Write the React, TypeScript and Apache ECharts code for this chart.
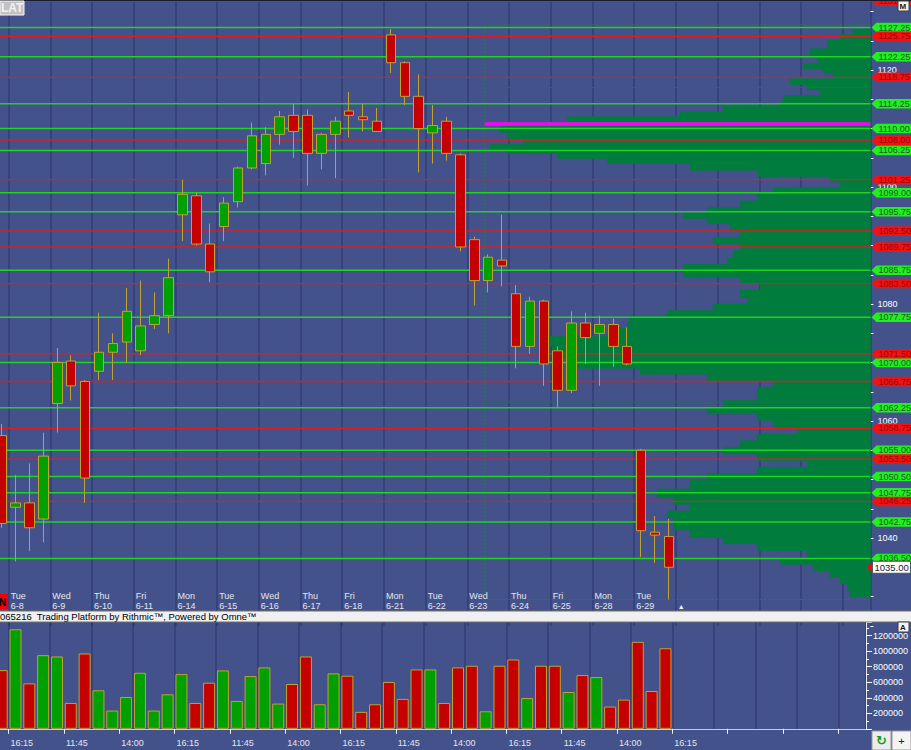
import React, { useEffect, useRef } from 'react';
import * as echarts from 'echarts';

// ---------- data ----------
const DAYS = ['Tue\n6-8', 'Wed\n6-9', 'Thu\n6-10', 'Fri\n6-11', 'Mon\n6-14', 'Tue\n6-15', 'Wed\n6-16', 'Thu\n6-17',
  'Fri\n6-18', 'Mon\n6-21', 'Tue\n6-22', 'Wed\n6-23', 'Thu\n6-24', 'Fri\n6-25', 'Mon\n6-28', 'Tue\n6-29'];
const BAR_TIMES = ['16:15', '11:45', '14:00'];

const OPEN = [1057.5, 1045.25, 1046.0, 1043.25, 1063.0, 1070.25, 1066.75, 1068.5, 1071.75, 1073.5, 1072.0, 1076.5, 1078.0,
  1095.25, 1098.5, 1090.25, 1093.25, 1097.5, 1103.25, 1104.0, 1109.0, 1112.25, 1112.25, 1105.75, 1109.0, 1113.0, 1112.0,
  1111.25, 1126.0, 1121.25, 1115.5, 1109.25, 1111.25, 1105.5, 1091.0, 1084.0, 1087.5, 1081.75, 1072.75, 1080.5, 1072.0,
  1065.25, 1076.75, 1075.0, 1076.5, 1072.75, 1055.0, 1041.0, 1040.25];
const CLOSE = [1042.5, 1046.0, 1041.75, 1054.0, 1070.0, 1066.0, 1050.25, 1071.75, 1073.25, 1078.75, 1076.25, 1078.0, 1084.5,
  1098.75, 1090.25, 1085.5, 1097.25, 1103.25, 1108.75, 1109.0, 1112.0, 1109.5, 1105.75, 1109.0, 1111.25, 1112.25, 1111.5,
  1109.5, 1121.25, 1115.5, 1110.0, 1110.5, 1105.75, 1089.75, 1084.0, 1088.0, 1086.5, 1072.75, 1080.5, 1069.75, 1065.25,
  1076.75, 1074.25, 1076.5, 1072.75, 1069.75, 1041.25, 1040.5, 1035.0];
const LOW = [1041.75, 1036.0, 1037.75, 1039.25, 1058.0, 1063.5, 1046.0, 1067.0, 1067.0, 1070.0, 1071.25, 1075.75, 1075.0,
  1090.75, 1090.0, 1083.75, 1090.75, 1096.5, 1103.0, 1102.0, 1107.25, 1105.0, 1100.25, 1103.0, 1101.5, 1108.5, 1109.5,
  1109.5, 1119.5, 1114.0, 1102.5, 1104.0, 1104.5, 1089.0, 1079.75, 1082.0, 1083.0, 1069.0, 1071.5, 1066.0, 1062.25,
  1064.75, 1069.75, 1066.0, 1069.25, 1069.5, 1036.75, 1035.75, 1029.5];
const HIGH = [1059.5, 1050.75, 1052.75, 1058.0, 1072.5, 1071.25, 1067.0, 1078.5, 1075.0, 1082.75, 1084.0, 1082.0, 1087.75,
  1101.25, 1099.0, 1093.75, 1098.25, 1103.5, 1111.0, 1110.25, 1113.0, 1114.25, 1113.25, 1109.25, 1112.0, 1116.25, 1114.25,
  1113.5, 1127.0, 1121.5, 1119.25, 1114.0, 1112.0, 1105.75, 1091.5, 1088.5, 1095.25, 1083.25, 1081.25, 1080.75, 1072.75,
  1078.75, 1078.5, 1078.0, 1077.5, 1076.0, 1055.25, 1043.75, 1043.25];
const VOLUME = [756000, 1282000, 585000, 949000, 932000, 333000, 970000, 496000, 235000, 410000, 722000, 235000, 444000,
  705000, 333000, 594000, 752000, 359000, 679000, 791000, 325000, 577000, 932000, 316000, 714000, 684000, 218000, 316000,
  603000, 385000, 765000, 765000, 333000, 791000, 812000, 226000, 812000, 893000, 397000, 812000, 812000, 474000, 692000,
  667000, 286000, 376000, 1120000, 487000, 1038000];

const GREEN_LEVELS = [1127.25, 1122.25, 1114.25, 1110.0, 1106.25, 1099.0, 1095.75, 1085.75, 1077.75, 1070.0, 1062.25,
  1055.0, 1050.5, 1047.75, 1042.75, 1036.5];
const RED_LEVELS = [1131.75, 1125.75, 1118.75, 1108.0, 1101.25, 1092.5, 1089.75, 1083.5, 1071.5, 1066.75, 1058.75,
  1053.5, 1046.25];

const PROFILE_PRICE = [1126.5, 1125.75, 1124.5, 1122.75, 1121.5, 1120.75, 1119.75, 1119.0, 1118.0, 1117.0, 1116.25, 1115.0,
  1114.25, 1113.25, 1112.5, 1111.5, 1110.75, 1110.0, 1108.75, 1107.75, 1106.75, 1106.25, 1105.25, 1104.5, 1103.5, 1102.25,
  1101.25, 1100.5, 1099.25, 1098.25, 1097.0, 1096.0, 1095.0, 1094.25, 1093.25, 1092.0, 1090.75, 1089.75, 1088.5, 1087.25,
  1086.25, 1085.25, 1084.0, 1083.0, 1081.75, 1080.5, 1079.5, 1078.25, 1077.5, 1076.5, 1075.25, 1073.75, 1072.0, 1069.5,
  1068.5, 1067.5, 1066.25, 1065.25, 1064.0, 1063.0, 1061.75, 1060.75, 1059.5, 1058.25, 1057.25, 1056.0, 1055.0, 1053.75,
  1052.75, 1051.5, 1050.5, 1049.25, 1047.5, 1046.25, 1045.25, 1044.0, 1043.0, 1042.0, 1040.75, 1039.5, 1038.5, 1037.25,
  1036.0, 1035.0, 1033.75, 1032.75, 1031.75, 1030.5];
const PROFILE_VOL = [17, 30, 43, 60, 53, 67, 47, 37, 80, 63, 50, 87, 90, 147, 190, 303, 363, 370, 363, 347, 380, 363, 313,
  263, 180, 113, 40, 30, 97, 113, 130, 163, 187, 163, 140, 130, 157, 130, 137, 143, 187, 187, 130, 110, 130, 123, 157, 203,
  240, 243, 260, 320, 318, 300, 230, 163, 97, 113, 113, 147, 163, 113, 97, 73, 113, 130, 147, 113, 63, 113, 163, 180, 213,
  197, 180, 203, 197, 197, 180, 147, 113, 63, 90, 57, 40, 30, 23, 20];
const PROFILE_START_BAR = 35;
const PROFILE_HIGH = 1127.75;
const PROFILE_LOW = 1029.5;
const POC = 1110.75;
const VAH = 1117.0;
const VAL = 1063.25;

// ---------- style / layout ----------
const SLOTS = 63;
const FONT = 'Liberation Sans, Arial, sans-serif';
const BG = '#43528A';
const OX = 10; // chart canvas extends OX px left of the page
const OY = 20; // and OY px above it, so grids can start off-page
const GRID_LEFT = OX - 5.25;
const GRID_RIGHT = 40.55;
const GRID_LINE = 'rgba(30,38,90,0.45)';
const UP = '#00A000';
const DOWN = '#C40000';
const EDGE = '#BFA232';
const PROFILE_COLOR = '#007D3C';

function buildOption() {
  const slotNames = Array.from({ length: SLOTS }, (_, i) => 's' + i);
  const boundaryNames = Array.from({ length: SLOTS + 1 }, (_, i) => 'b' + i);
  const candleData = OPEN.map((o, i) => [o, CLOSE[i], LOW[i], HIGH[i]]);
  const volData = VOLUME.map((v, i) => ({
    value: v,
    itemStyle: { color: CLOSE[i] >= OPEN[i] ? UP : DOWN, borderColor: EDGE, borderWidth: 1 },
  }));
  const profileData = PROFILE_PRICE.map((p, i) => [PROFILE_VOL[i], p]);
  const levelData = [
    ...GREEN_LEVELS.map((p) => [0, p, 0]),
    ...RED_LEVELS.map((p) => [0, p, 1]),
    [0, CLOSE[CLOSE.length - 1], 2],
  ];

  const profileItem = (params: any, api: any) => {
    const i = params.dataIndex;
    const p = PROFILE_PRICE[i];
    const up = i > 0 ? (PROFILE_PRICE[i - 1] + p) / 2 : p + 0.5;
    const dn = i < PROFILE_PRICE.length - 1 ? (PROFILE_PRICE[i + 1] + p) / 2 : p - 0.5;
    const a = api.coord([api.value(0), up]);
    const b = api.coord([0, dn]);
    return {
      type: 'rect',
      shape: { x: a[0], y: a[1], width: b[0] - a[0], height: b[1] - a[1] },
      style: { fill: PROFILE_COLOR, stroke: PROFILE_COLOR, lineWidth: 0.6 },
    };
  };

  const frameItem = (params: any, api: any) => {
    const cs = params.coordSys;
    const bw = api.size([1, 0])[0];
    const x0 = api.coord([PROFILE_START_BAR, POC])[0] - bw * 0.25;
    const xr = cs.x + cs.width;
    const yT = api.coord([0, PROFILE_HIGH])[1];
    const yB = api.coord([0, PROFILE_LOW])[1];
    const yP = api.coord([0, POC])[1];
    const yH = api.coord([0, VAH])[1];
    const yL = api.coord([0, VAL])[1];
    return {
      type: 'group',
      children: [
        { type: 'polyline', shape: { points: [[xr, yT], [x0, yT], [x0, yB], [xr, yB]] },
          style: { stroke: '#2C7A50', lineWidth: 1, lineDash: [2, 2], fill: 'none' } },
        { type: 'line', shape: { x1: x0, y1: yH, x2: xr, y2: yH }, style: { stroke: '#24704E', lineWidth: 1 } },
        { type: 'line', shape: { x1: x0, y1: yL, x2: xr, y2: yL }, style: { stroke: '#24704E', lineWidth: 1 } },
        { type: 'line', shape: { x1: x0, y1: yP, x2: xr, y2: yP }, style: { stroke: '#FF00FF', lineWidth: 3.5 } },
      ],
    };
  };

  const levelItem = (params: any, api: any) => {
    const price = api.value(1);
    const kind = api.value(2);
    const cs = params.coordSys;
    const y = api.coord([0, price])[1];
    const xl = cs.x;
    const xr = cs.x + cs.width;
    const children: any[] = [];
    if (kind === 2) {
      children.push({ type: 'polygon', shape: { points: [[xr - 4, y], [xr + 2, y - 5], [xr + 2, y + 5]] }, style: { fill: '#E01010' } });
      children.push({ type: 'rect', shape: { x: xr + 2, y: y - 6, width: 38, height: 12 }, style: { fill: '#FFFFFF', stroke: '#505050', lineWidth: 1 } });
      children.push({ type: 'text', x: xr + 4, y, style: { text: price.toFixed(2), fill: '#101838', fontSize: 9.5, fontFamily: FONT, verticalAlign: 'middle', align: 'left' } });
    } else {
      children.push({ type: 'line', shape: { x1: xl, y1: y, x2: xr, y2: y },
        style: { stroke: kind === 0 ? '#22D422' : '#D82020', lineWidth: kind === 0 ? 1.5 : 1.3 } });
      const bg = kind === 0 ? '#22EE22' : '#EE1414';
      const h = 4.75;
      children.push({ type: 'polygon', shape: { points: [[xr + 1, y], [xr + 6, y - h], [xr + 60, y - h], [xr + 60, y + h], [xr + 6, y + h]] }, style: { fill: bg } });
      children.push({ type: 'text', x: xr + 8, y, style: { text: price.toFixed(2), fill: kind === 0 ? '#1E5A1E' : '#A40000', fontSize: 9, fontFamily: FONT, verticalAlign: 'middle', align: 'left' } });
    }
    return { type: 'group', children };
  };

  const hiddenAxisParts = { axisLine: { show: false }, axisTick: { show: false }, axisLabel: { show: false } };
  const g = (x: number, y: number) => ({ x: x + OX, y: y + OY });

  return {
    animation: false,
    backgroundColor: BG,
    grid: [
      { left: GRID_LEFT, right: GRID_RIGHT, top: OY - 17.75, height: 643.5 },
      { left: GRID_LEFT, right: GRID_RIGHT, top: OY + 622, height: 106.8 },
      { left: GRID_LEFT, right: GRID_RIGHT, top: OY + 588, height: 1 },
    ],
    xAxis: [
      { type: 'category', gridIndex: 0, data: slotNames, boundaryGap: true, position: 'bottom', ...hiddenAxisParts,
        splitLine: { show: true, interval: (i: number) => i % 3 === 1, lineStyle: { color: GRID_LINE, width: 1.5 } } },
      { type: 'category', gridIndex: 1, data: slotNames, boundaryGap: true, position: 'top', ...hiddenAxisParts,
        splitLine: { show: true, interval: (i: number) => i % 3 === 1, lineStyle: { color: GRID_LINE, width: 1.5 } } },
      { type: 'value', gridIndex: 0, min: 0, max: 875.7, inverse: true, position: 'top', show: false },
      { type: 'category', gridIndex: 1, data: boundaryNames, boundaryGap: false, position: 'bottom',
        axisLine: { show: true, lineStyle: { color: '#C8CCDA', width: 1 } },
        axisTick: { show: true, interval: (i: number) => i % 4 === 1, length: 5, lineStyle: { color: '#F0F0F0' } },
        axisLabel: {
          interval: 0, align: 'left', margin: 10, color: '#E4E6EE', fontSize: 9, fontFamily: FONT, padding: [0, 0, 0, 2],
          formatter: (_v: string, i: number) => (i % 4 === 1 && i <= 49 ? BAR_TIMES[(i - 1) % 3] : ''),
        },
        splitLine: { show: false } },
      { type: 'category', gridIndex: 2, data: boundaryNames, boundaryGap: false, position: 'bottom',
        axisLine: { show: false }, axisTick: { show: false },
        axisLabel: {
          interval: 0, align: 'left', margin: 2, color: '#E4E6EE', fontSize: 9, lineHeight: 10, fontFamily: FONT,
          padding: [0, 0, 0, 2],
          formatter: (_v: string, i: number) => {
            if (i % 3 === 1 && DAYS[(i - 1) / 3]) return DAYS[(i - 1) / 3];
            if (i === 49) return '{e| }\n{t|▲}';
            return '';
          },
          rich: { e: { lineHeight: 10, fontSize: 9 }, t: { fontSize: 7, lineHeight: 10, color: '#F4F4F4' } },
        },
        splitLine: { show: false } },
    ],
    yAxis: [
      { type: 'value', gridIndex: 0, min: 1025, max: 1135, interval: 5, position: 'right',
        axisLine: { show: false },
        axisTick: { show: true, length: 3, lineStyle: { color: '#FFFFFF' } },
        axisLabel: { color: '#FFFFFF', fontSize: 9, fontFamily: FONT, margin: 7, align: 'left', padding: [0, 0, 5, 0],
          formatter: (v: number) => (v % 20 === 0 && v >= 1030 && v <= 1130 ? String(v) : '') },
        splitLine: { show: false } },
      { type: 'value', gridIndex: 1, min: 0, max: 1376000, interval: 200000, position: 'right',
        axisLine: { show: true, lineStyle: { color: '#E8E8F0' } },
        axisTick: { show: true, length: 6, lineStyle: { color: '#FFFFFF' } },
        minorTick: { show: true, splitNumber: 2, length: 3, lineStyle: { color: '#FFFFFF' } },
        axisLabel: { color: '#FFFFFF', fontSize: 9, fontFamily: FONT, margin: 7, align: 'left', padding: [0, 0, 5, 0],
          formatter: (v: number) => (v > 0 && v % 200000 === 0 ? String(v) : '') },
        splitLine: { show: false } },
      { type: 'value', gridIndex: 2, show: false },
    ],
    series: [
      { type: 'custom', name: 'profile', xAxisIndex: 2, yAxisIndex: 0, data: profileData, encode: { x: 0, y: 1 },
        renderItem: profileItem, z: 1, silent: true },
      { type: 'custom', name: 'profileFrame', xAxisIndex: 0, yAxisIndex: 0, data: [[PROFILE_START_BAR, POC]],
        encode: { x: 0, y: 1 }, renderItem: frameItem, z: 2, silent: true, clip: false },
      { type: 'custom', name: 'levels', xAxisIndex: 0, yAxisIndex: 0, data: levelData, encode: { x: 0, y: 1 },
        renderItem: levelItem, z: 3, silent: true, clip: false },
      { type: 'candlestick', name: 'ES', xAxisIndex: 0, yAxisIndex: 0, data: candleData, barWidth: 10, z: 5,
        itemStyle: { color: UP, color0: DOWN, borderColor: EDGE, borderColor0: EDGE, borderWidth: 1 } },
      { type: 'bar', name: 'Volume', xAxisIndex: 1, yAxisIndex: 1, data: volData, barWidth: 12, z: 2 },
    ],
    graphic: [
      { type: 'rect', z: 100, shape: { ...g(0, 0), width: 911, height: 1 }, style: { fill: '#181C2C' } },
      { type: 'rect', z: 100, shape: { ...g(0, 1), width: 24, height: 14 }, style: { fill: '#C2C2C2', stroke: '#F6F6F6', lineWidth: 1 } },
      { type: 'text', z: 101, ...g(1, 2), style: { text: 'LAT', fill: '#F2F2F2', fontSize: 12, fontWeight: 'bold', fontFamily: FONT } },
      { type: 'rect', z: 100, shape: { ...g(898, 1), width: 11, height: 10 }, style: { fill: '#F2F2F2', stroke: '#404040', lineWidth: 1 } },
      { type: 'text', z: 101, ...g(899.5, 2), style: { text: 'M', fill: '#1A1A1A', fontSize: 8, fontWeight: 'bold', fontFamily: FONT } },
      { type: 'rect', z: 100, shape: { ...g(0, 594), width: 8, height: 15 }, style: { fill: '#F00000' } },
      { type: 'text', z: 101, ...g(-1, 597), style: { text: 'N', fill: '#000000', fontSize: 10, fontWeight: 'bold', fontFamily: FONT } },
      { type: 'rect', z: 100, shape: { ...g(-1, 611), width: 913, height: 11 }, style: { fill: '#F0F0F0', stroke: '#707070', lineWidth: 1 } },
      { type: 'text', z: 101, ...g(0, 616.5), style: { text: '065216  Trading Platform by Rithmic™, Powered by Omne™', fill: '#000000', fontSize: 9.5, fontFamily: FONT, verticalAlign: 'middle' } },
      { type: 'rect', z: 100, shape: { ...g(898, 622), width: 11, height: 10 }, style: { fill: '#F2F2F2', stroke: '#404040', lineWidth: 1 } },
      { type: 'text', z: 101, ...g(900, 623), style: { text: 'A', fill: '#1A1A1A', fontSize: 8, fontWeight: 'bold', fontFamily: FONT } },
      { type: 'rect', z: 100, shape: { ...g(872, 731), width: 19, height: 19 }, style: { fill: '#ECECEC', stroke: '#9A9A9A', lineWidth: 1 } },
      { type: 'text', z: 101, ...g(881.5, 740.5), style: { text: '↻', fill: '#149A14', fontSize: 13, fontWeight: 'bold', fontFamily: 'DejaVu Sans', align: 'center', verticalAlign: 'middle' } },
      { type: 'rect', z: 100, shape: { ...g(892, 731), width: 19, height: 19 }, style: { fill: '#F4F4F4', stroke: '#9A9A9A', lineWidth: 1 } },
      { type: 'text', z: 101, ...g(901.5, 740.5), style: { text: '+', fill: '#202020', fontSize: 11, fontFamily: FONT, align: 'center', verticalAlign: 'middle' } },
    ],
  };
}

export default function App() {
  const ref = useRef<HTMLDivElement>(null);
  useEffect(() => {
    document.body.style.margin = '0';
    const chart = echarts.init(ref.current as HTMLDivElement, null, { renderer: 'svg' });
    chart.setOption(buildOption() as any);
    return () => chart.dispose();
  }, []);
  return (
    <div style={{ position: 'fixed', left: 0, top: 0, width: 911, height: 750, overflow: 'hidden', background: BG }}>
      <div ref={ref} style={{ position: 'absolute', left: -OX, top: -OY, width: 911 + OX, height: 750 + OY }} />
    </div>
  );
}
